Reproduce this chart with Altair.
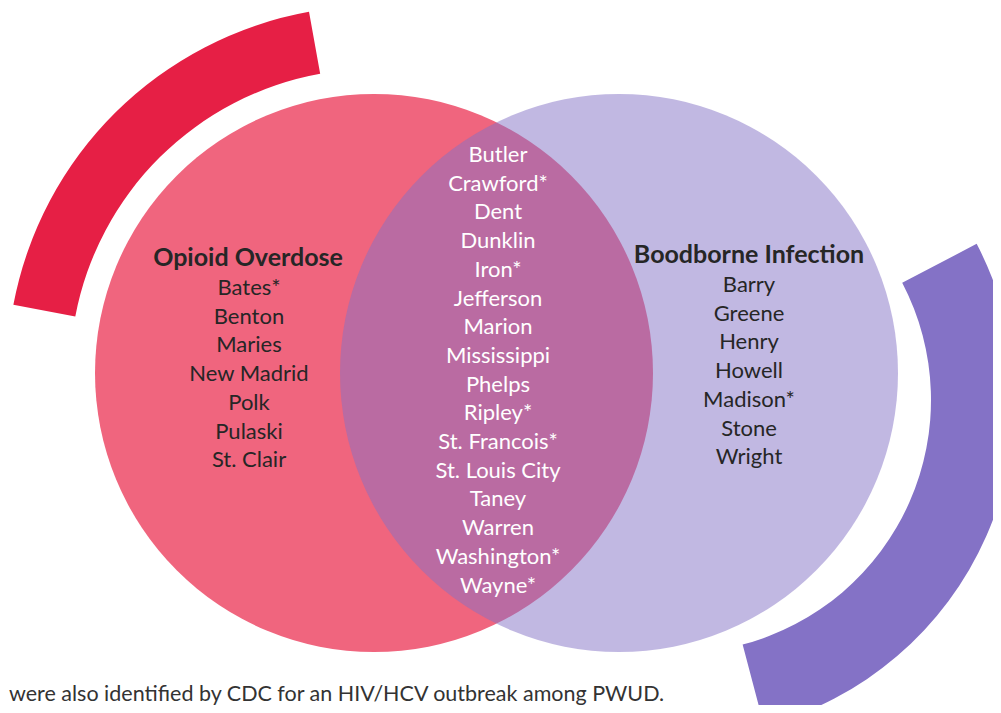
import math
import altair as alt
import pandas as pd

# ---- data ----
opioid_title = "Opioid Overdose"
infection_title = "Boodborne Infection"
opioid_only = ["Bates*", "Benton", "Maries", "New Madrid", "Polk", "Pulaski", "St. Clair"]
both_sets = ["Butler", "Crawford*", "Dent", "Dunklin", "Iron*", "Jefferson", "Marion",
             "Mississippi", "Phelps", "Ripley*", "St. Francois*", "St. Louis City",
             "Taney", "Warren", "Washington*", "Wayne*"]
infection_only = ["Barry", "Greene", "Henry", "Howell", "Madison*", "Stone", "Wright"]
footnote = "were also identified by CDC for an HIV/HCV outbreak among PWUD."

# ---- layout (page pixel coordinates) ----
W, H = 985, 697
X0, Y0 = 8, 8
xs = alt.Scale(domain=[X0, X0 + W], range=[0, W])
ys = alt.Scale(domain=[Y0, Y0 + H], range=[0, H])

R = 279
LCX, RCX, CY = 374, 619, 373
LINE = 28.7
FONT = "Lato"

C_RED = "#E61F45"
C_PINK = "#F0657E"
C_PURPLE = "#8472C6"
DARK = "#262626"


def pos(x, y):
    return dict(x=alt.X("x:Q", scale=xs, axis=None), y=alt.Y("y:Q", scale=ys, axis=None))


def deg(a):
    return a * math.pi / 180


left_c = pd.DataFrame({"x": [LCX], "y": [CY]})
right_c = pd.DataFrame({"x": [RCX], "y": [CY]})
purple_c = pd.DataFrame({"x": [678], "y": [400]})

red_arc = alt.Chart(left_c).mark_arc(
    radius=367, radius2=304, theta=deg(280.7), theta2=deg(349.8), fill=C_RED
).encode(**pos("x", "y"))

purple_arc = alt.Chart(purple_c).mark_arc(
    radius=337, radius2=253, theta=deg(62.4), theta2=deg(165.2), fill=C_PURPLE
).encode(**pos("x", "y"))

left_circle = alt.Chart(left_c).mark_arc(
    radius=R, radius2=0, theta=0, theta2=2 * math.pi, fill=C_PINK
).encode(**pos("x", "y"))

right_circle = alt.Chart(right_c).mark_arc(
    radius=R, radius2=0, theta=0, theta2=2 * math.pi, fill=C_PURPLE, fillOpacity=0.5
).encode(**pos("x", "y"))


def text_df(names, cx, y0):
    return pd.DataFrame({"t": names, "x": [cx] * len(names),
                         "y": [y0 + LINE * i for i in range(len(names))]})


titles = pd.DataFrame({"t": [opioid_title, infection_title], "x": [248, 749], "y": [258, 255]})
title_layer = alt.Chart(titles).mark_text(
    font=FONT, fontSize=25, fontWeight="bold", color=DARK, align="center", baseline="middle"
).encode(text="t:N", **pos("x", "y"))

left_list = alt.Chart(text_df(opioid_only, 249, 288)).mark_text(
    font=FONT, fontSize=22, color=DARK, align="center", baseline="middle"
).encode(text="t:N", **pos("x", "y"))

right_list = alt.Chart(text_df(infection_only, 749, 285)).mark_text(
    font=FONT, fontSize=22, color=DARK, align="center", baseline="middle"
).encode(text="t:N", **pos("x", "y"))

mid_list = alt.Chart(text_df(both_sets, 498, 155)).mark_text(
    font=FONT, fontSize=22, color="white", align="center", baseline="middle"
).encode(text="t:N", **pos("x", "y"))

foot = alt.Chart(pd.DataFrame({"t": [footnote], "x": [9], "y": [695]})).mark_text(
    font=FONT, fontSize=21.5, color="#333333", align="left", baseline="middle"
).encode(text="t:N", **pos("x", "y"))

chart = alt.layer(
    red_arc, purple_arc, left_circle, right_circle,
    title_layer, left_list, right_list, mid_list, foot
).properties(
    width=W, height=H, padding=0, autosize=alt.AutoSizeParams(type="none")
).configure(
    background="white", view=alt.ViewConfig(stroke=None, strokeWidth=0)
)

chart.save("out.html", embed_options={"renderer": "svg", "actions": False})
